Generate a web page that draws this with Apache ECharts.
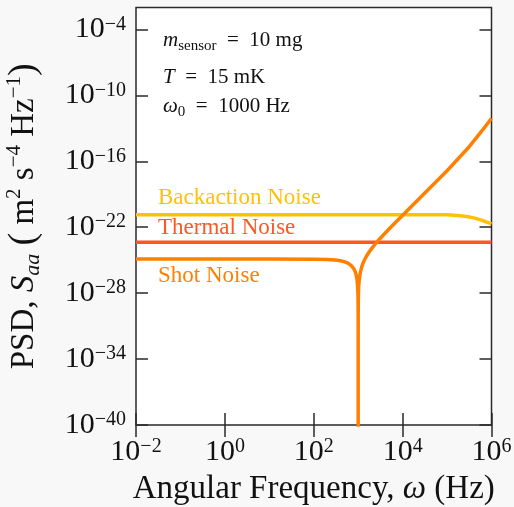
<!DOCTYPE html>
<html>
<head>
<meta charset="utf-8">
<script src="https://cdn.jsdelivr.net/npm/echarts@6/dist/echarts.min.js"></script>
<style>
  html, body { margin: 0; padding: 0; background: #f8f8f8; }
  #chart { width: 514px; height: 507px; }
</style>
</head>
<body>
<div id="chart"></div>
<script>
// Axis decades (powers of ten) for the log-log frame
const xTickExponents = [-2, 0, 2, 4, 6];
const yTickExponents = [-40, -34, -28, -22, -16, -10, -4];
const yTopExponent = -2;

// Backaction noise, m^2 s^-4 Hz^-1, versus angular frequency (Hz)
const backactionOmega = [1e-2, 1e4, 1e5, 2e5, 3e5, 4e5, 5e5, 7e5, 1e6];
const backactionPSD   = [1.38e-21, 1.38e-21, 1.35e-21, 1.11e-21, 9.0e-22, 7.1e-22, 5.5e-22, 3.5e-22, 1.98e-22];

// Thermal noise floor
const thermalOmega = [1e-2, 1e6];
const thermalPSD   = [4.3e-24, 4.3e-24];

// Shot noise: notch at the resonance, rising steeply above it
const shotOmega = [1e-2, 1e1, 1e2, 2e2, 3e2, 4e2, 5e2, 6e2, 7e2, 8e2, 8.5e2, 9e2, 9.3e2, 9.5e2,
  9.7e2, 9.8e2, 9.9e2, 9.97e2, 9.99e2, 9.999e2, 1e3, 1.0001e3, 1.001e3, 1.003e3, 1.01e3,
  1.02e3, 1.03e3, 1.05e3, 1.1e3, 1.2e3, 1.3e3, 1.4e3, 1.5e3, 1.7e3, 2e3, 2.5e3, 3e3, 5e3,
  1e4, 3e4, 1e5, 3e5, 6e5, 1e6];
const shotPSD = [1.26e-25, 1.26e-25, 1.23e-25, 1.16e-25, 1.05e-25, 8.9e-26, 7.1e-26, 5.1e-26,
  3.25e-26, 1.63e-26, 9.7e-27, 4.55e-27, 2.3e-27, 1.2e-27, 4.4e-28, 2.0e-28, 5.0e-29, 4.5e-30,
  5.0e-31, 5e-33, 1e-60, 5e-33, 5.05e-31, 4.55e-30, 5.1e-29, 2.05e-28, 4.7e-28, 1.32e-27,
  5.5e-27, 2.45e-26, 6.0e-26, 1.15e-25, 1.97e-25, 4.5e-25, 1.13e-24, 3.5e-24, 8.0e-24, 7.2e-23,
  1.25e-21, 1.05e-19, 1.4e-17, 1.7e-15, 5.5e-14, 8e-13];

const seriesNames = ['Backaction Noise', 'Thermal Noise', 'Shot Noise'];
const seriesColors = ['#FFC107', '#FF5722', '#FF8000'];

const FONT = '"Liberation Serif", "Times New Roman", serif';
const INK = '#111111';
const FRAME = '#2a2a2a';

function pairs(xs, ys) { return xs.map((x, i) => [x, ys[i]]); }
function powLabel(v) {
  const e = Math.round(Math.log10(v));
  return '10{sup|' + (e < 0 ? '\u2212' + (-e) : String(e)) + '}';
}
const xTickValues = xTickExponents.map(e => Math.pow(10, e));
const yTickValues = yTickExponents.map(e => Math.pow(10, e));

const tickRich = {
  sup: { fontFamily: FONT, fontSize: 20, lineHeight: 20, verticalAlign: 'top', color: INK }
};

const chart = echarts.init(document.getElementById('chart'), null, { renderer: 'canvas' });

const xRange = {
  type: 'log', logBase: 10,
  min: xTickValues[0],
  max: xTickValues[xTickValues.length - 1],
  interval: xTickExponents[1] - xTickExponents[0]
};
const yRange = {
  type: 'log', logBase: 10,
  min: yTickValues[0],
  max: Math.pow(10, yTopExponent),
  interval: yTickExponents[1] - yTickExponents[0]
};
function ticks(values) {
  return { show: true, inside: true, length: 12, customValues: values,
           lineStyle: { color: FRAME, width: 1.5 } };
}

chart.setOption({
  backgroundColor: '#f8f8f8',
  animation: false,
  grid: {
    left: 136, right: 22.5, top: 7.5, bottom: 82,
    containLabel: false, outerBoundsMode: 'none',
    show: true, backgroundColor: '#ffffff', borderColor: FRAME, borderWidth: 1.5
  },
  xAxis: [
    Object.assign({}, xRange, {
      position: 'bottom',
      axisLine: { show: false },
      axisTick: ticks(xTickValues),
      splitLine: { show: false },
      minorTick: { show: false },
      axisLabel: {
        margin: 12, fontFamily: FONT, fontSize: 30, lineHeight: 30, color: INK,
        customValues: xTickValues, hideOverlap: false,
        formatter: powLabel, rich: tickRich
      },
      name: 'Angular Frequency, {it|\u03c9} (Hz)',
      nameLocation: 'middle', nameGap: 48, nameMoveOverlap: false,
      nameTextStyle: {
        fontFamily: FONT, fontSize: 33, color: INK,
        rich: { it: { fontFamily: FONT, fontSize: 33, fontStyle: 'italic', color: INK } }
      }
    }),
    Object.assign({}, xRange, {
      position: 'top',
      axisLine: { show: false },
      axisTick: ticks(xTickValues),
      splitLine: { show: false },
      axisLabel: { show: false }
    })
  ],
  yAxis: [
    Object.assign({}, yRange, {
      position: 'left',
      axisLine: { show: false },
      axisTick: ticks(yTickValues),
      splitLine: { show: false },
      axisLabel: {
        margin: 10, fontFamily: FONT, fontSize: 30, lineHeight: 30, color: INK,
        customValues: yTickValues, hideOverlap: false,
        formatter: powLabel, rich: tickRich
      },
      name: 'PSD, {it|S}{sub|aa} {par|(} m{sup|2} s{sup|\u22124} Hz{sup|\u22121}{par|)}',
      nameLocation: 'middle', nameRotate: 90, nameGap: 92, nameMoveOverlap: false,
      nameTextStyle: {
        fontFamily: FONT, fontSize: 33, lineHeight: 40, color: INK,
        rich: {
          it: { fontFamily: FONT, fontSize: 33, fontStyle: 'italic', color: INK },
          sub: { fontFamily: FONT, fontSize: 22, fontStyle: 'italic', lineHeight: 22, verticalAlign: 'bottom', color: INK },
          sup: { fontFamily: FONT, fontSize: 21, lineHeight: 21, verticalAlign: 'top', color: INK },
          par: { fontFamily: FONT, fontSize: 38, color: INK }
        }
      }
    }),
    Object.assign({}, yRange, {
      position: 'right',
      axisLine: { show: false },
      axisTick: ticks(yTickValues),
      splitLine: { show: false },
      axisLabel: { show: false }
    })
  ],
  series: [
    { name: seriesNames[0], type: 'line', data: pairs(backactionOmega, backactionPSD),
      showSymbol: false, smooth: false, clip: true, lineStyle: { color: seriesColors[0], width: 3.5 } },
    { name: seriesNames[1], type: 'line', data: pairs(thermalOmega, thermalPSD),
      showSymbol: false, smooth: false, clip: true, lineStyle: { color: seriesColors[1], width: 3.5 } },
    { name: seriesNames[2], type: 'line', data: pairs(shotOmega, shotPSD),
      showSymbol: false, smooth: false, clip: true, lineStyle: { color: seriesColors[2], width: 3.5 } }
  ],
  graphic: [
    { type: 'text', x: 158, y: 198, z: 100,
      style: { text: seriesNames[0], fill: seriesColors[0], font: '23px ' + FONT, verticalAlign: 'middle' } },
    { type: 'text', x: 158, y: 227.5, z: 100,
      style: { text: seriesNames[1], fill: seriesColors[1], font: '23px ' + FONT, verticalAlign: 'middle' } },
    { type: 'text', x: 158, y: 275.5, z: 100,
      style: { text: seriesNames[2], fill: seriesColors[2], font: '23px ' + FONT, verticalAlign: 'middle' } },
    { type: 'text', x: 163, y: 40.7, z: 100,
      style: {
        text: '{it|m}{sub|sensor}  =  10 mg', fill: INK, fontFamily: FONT, fontSize: 21, lineHeight: 26,
        verticalAlign: 'middle',
        rich: {
          it: { fontFamily: FONT, fontSize: 21, fontStyle: 'italic', lineHeight: 26 },
          sub: { fontFamily: FONT, fontSize: 15, lineHeight: 15, verticalAlign: 'bottom' }
        }
      } },
    { type: 'text', x: 163, y: 77.3, z: 100,
      style: {
        text: '{it|T}  =  15 mK', fill: INK, fontFamily: FONT, fontSize: 21, lineHeight: 26,
        verticalAlign: 'middle',
        rich: { it: { fontFamily: FONT, fontSize: 21, fontStyle: 'italic', lineHeight: 26 } }
      } },
    { type: 'text', x: 163, y: 106.7, z: 100,
      style: {
        text: '{it|\u03c9}{sub|0}  =  1000 Hz', fill: INK, fontFamily: FONT, fontSize: 21, lineHeight: 26,
        verticalAlign: 'middle',
        rich: {
          it: { fontFamily: FONT, fontSize: 21, fontStyle: 'italic', lineHeight: 26 },
          sub: { fontFamily: FONT, fontSize: 15, lineHeight: 15, verticalAlign: 'bottom' }
        }
      } }
  ]
});
</script>
</body>
</html>
